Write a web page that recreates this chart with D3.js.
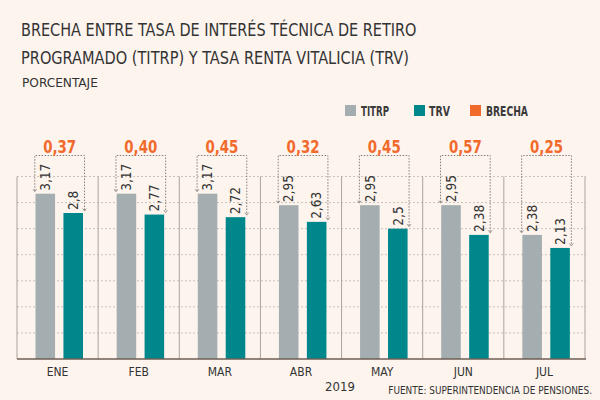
<!DOCTYPE html>
<html>
<head>
<meta charset="utf-8">
<script src="https://cdn.jsdelivr.net/npm/d3@7"></script>
<style>
  html, body { margin: 0; padding: 0; background: #fdf4ee; }
  svg { display: block; }
  text { font-family: "Liberation Sans Narrow", "DejaVu Sans Condensed", "Roboto", sans-serif; }
</style>
</head>
<body>
<svg id="chart" width="600" height="400"></svg>
<script>
const categories = ["ENE", "FEB", "MAR", "ABR", "MAY", "JUN", "JUL"];
const titrp = [3.17, 3.17, 3.17, 2.95, 2.95, 2.95, 2.38];
const trv = [2.8, 2.77, 2.72, 2.63, 2.5, 2.38, 2.13];
const brecha = [0.37, 0.40, 0.45, 0.32, 0.45, 0.57, 0.25];
const yTicks = [0.5, 1, 1.5, 2, 2.5, 3, 3.5];
const seriesNames = ["TITRP", "TRV", "BRECHA"];

(function () {
const colors = { TITRP: "#a4adaf", TRV: "#00878c", BRECHA: "#f26a2b" };
const textColor = "#333";

const svg = d3.select("#chart");
svg.append("rect").attr("width", 600).attr("height", 400).attr("fill", "#fdf4ee");

const pLeft = 17, pRight = 585, pTop = 176.5, pBottom = 359;

const x = d3.scaleBand().domain(categories).range([pLeft, pRight]).padding(0);
const xs = d3.scaleBand().domain(["TITRP", "TRV"]).range([18.5, 66]).paddingInner(0.3);
const y = d3.scaleLinear().domain([0, 3.5]).range([pBottom, pTop]);

// fit a text horizontally to a target width via scale transform
function fitText(sel, px, py, width, anchor) {
  const len = sel.node().getComputedTextLength();
  const k = width / len;
  sel.attr("text-anchor", anchor || "start")
     .attr("transform", `translate(${px},${py}) scale(${k},1)`);
  return sel;
}

// Titles
fitText(svg.append("text").attr("font-size", 18).attr("fill", textColor)
  .text("BRECHA ENTRE TASA DE INTERÉS TÉCNICA DE RETIRO"), 21, 36, 396);
fitText(svg.append("text").attr("font-size", 18).attr("fill", textColor)
  .text("PROGRAMADO (TITRP) Y TASA RENTA VITALICIA (TRV)"), 21, 64, 388);
fitText(svg.append("text").attr("font-size", 12).attr("fill", textColor)
  .text("PORCENTAJE"), 22, 87, 76);

// Legend
const legendItems = [
  { name: seriesNames[0], sx: 345, tx: 361, tl: 28 },
  { name: seriesNames[1], sx: 414, tx: 429, tl: 21 },
  { name: seriesNames[2], sx: 470, tx: 486, tl: 42 }
];
legendItems.forEach(d => {
  svg.append("rect").attr("x", d.sx).attr("y", 105).attr("width", 11).attr("height", 11).attr("fill", colors[d.name]);
  fitText(svg.append("text").attr("font-size", 13.5).attr("font-weight", "bold")
    .attr("fill", "#3a3a3a").text(d.name), d.tx, 116, d.tl);
});

// Gridlines
svg.append("g").selectAll("line").data(yTicks).join("line")
  .attr("x1", pLeft).attr("x2", pRight + 1)
  .attr("y1", d => y(d)).attr("y2", d => y(d))
  .attr("stroke", "#c9c2bd").attr("stroke-width", 1).attr("stroke-dasharray", "2,2");

// Vertical separators
const bounds = categories.map(c => x(c)).concat([pRight]);
svg.append("g").selectAll("line").data(bounds).join("line")
  .attr("x1", d => d).attr("x2", d => d)
  .attr("y1", y(3.5)).attr("y2", pBottom)
  .attr("stroke", "#aaa3a0").attr("stroke-width", 1);

// Bars
const groups = svg.append("g").selectAll("g").data(categories).join("g")
  .attr("transform", c => `translate(${x(c)},0)`);

groups.append("rect")
  .attr("x", xs("TITRP")).attr("width", xs.bandwidth())
  .attr("y", (c, i) => y(titrp[i])).attr("height", (c, i) => pBottom - y(titrp[i]))
  .attr("fill", colors.TITRP);
groups.append("rect")
  .attr("x", xs("TRV")).attr("width", xs.bandwidth())
  .attr("y", (c, i) => y(trv[i])).attr("height", (c, i) => pBottom - y(trv[i]))
  .attr("fill", colors.TRV);

const fmt = v => String(v).replace(".", ",");

// Value labels (rotated)
groups.append("text")
  .attr("transform", (c, i) => `translate(${xs("TITRP") + xs.bandwidth() / 2},${y(titrp[i]) - 3}) rotate(-90)`)
  .attr("dy", "0.35em").attr("font-size", 13.5).attr("fill", textColor)
  .text((c, i) => fmt(titrp[i]));
groups.append("text")
  .attr("transform", (c, i) => `translate(${xs("TRV") + xs.bandwidth() / 2},${y(trv[i]) - 3}) rotate(-90)`)
  .attr("dy", "0.35em").attr("font-size", 13.5).attr("fill", textColor)
  .text((c, i) => fmt(trv[i]));

// Brackets
const bTop = y(3.5) - 21;
const bx1 = xs("TITRP") - 0.7;
const bx2 = xs("TRV") + xs.bandwidth() + 1.5;
const bColor = "#857d79";
groups.append("path")
  .attr("d", (c, i) => `M${bx1},${y(titrp[i]) - 3}V${bTop}H${bx2}V${y(trv[i]) - 3}`)
  .attr("fill", "none").attr("stroke", bColor).attr("stroke-width", 1).attr("stroke-dasharray", "1.5,1.5");
groups.append("path")
  .attr("d", (c, i) => `M${bx1 - 1.8},${y(titrp[i]) - 4.5}L${bx1},${y(titrp[i]) - 2}L${bx1 + 1.8},${y(titrp[i]) - 4.5}`)
  .attr("fill", "none").attr("stroke", bColor).attr("stroke-width", 0.8);
groups.append("path")
  .attr("d", (c, i) => `M${bx2 - 1.8},${y(trv[i]) - 4.5}L${bx2},${y(trv[i]) - 2}L${bx2 + 1.8},${y(trv[i]) - 4.5}`)
  .attr("fill", "none").attr("stroke", bColor).attr("stroke-width", 0.8);

// Brecha labels
groups.each(function (c, i) {
  fitText(d3.select(this).append("text")
    .attr("font-size", 18.5).attr("font-weight", "bold")
    .attr("fill", colors.BRECHA)
    .text(brecha[i].toFixed(2).replace(".", ",")), (bx1 + bx2) / 2, bTop - 2.5, 33, "middle");
});

// Baseline
svg.append("line").attr("x1", pLeft).attr("x2", pRight + 1).attr("y1", pBottom).attr("y2", pBottom)
  .attr("stroke", "#6e5e55").attr("stroke-width", 1.5);

// X axis labels
const xAxis = d3.axisBottom(x).tickSize(0).tickPadding(8);
const gx = svg.append("g").attr("transform", `translate(0,${pBottom})`).call(xAxis);
gx.select(".domain").remove();
gx.selectAll("text").attr("font-size", 12).attr("fill", textColor)
  .attr("font-family", "'Liberation Sans Narrow', 'DejaVu Sans Condensed', Roboto, sans-serif");

svg.append("text").attr("x", 340).attr("y", 391).attr("text-anchor", "middle")
  .attr("font-size", 13).attr("fill", textColor).text("2019");
fitText(svg.append("text").attr("font-size", 11).attr("fill", textColor)
  .text("FUENTE: SUPERINTENDENCIA DE PENSIONES."), 592, 394, 204, "end");
})();
</script>
</body>
</html>
